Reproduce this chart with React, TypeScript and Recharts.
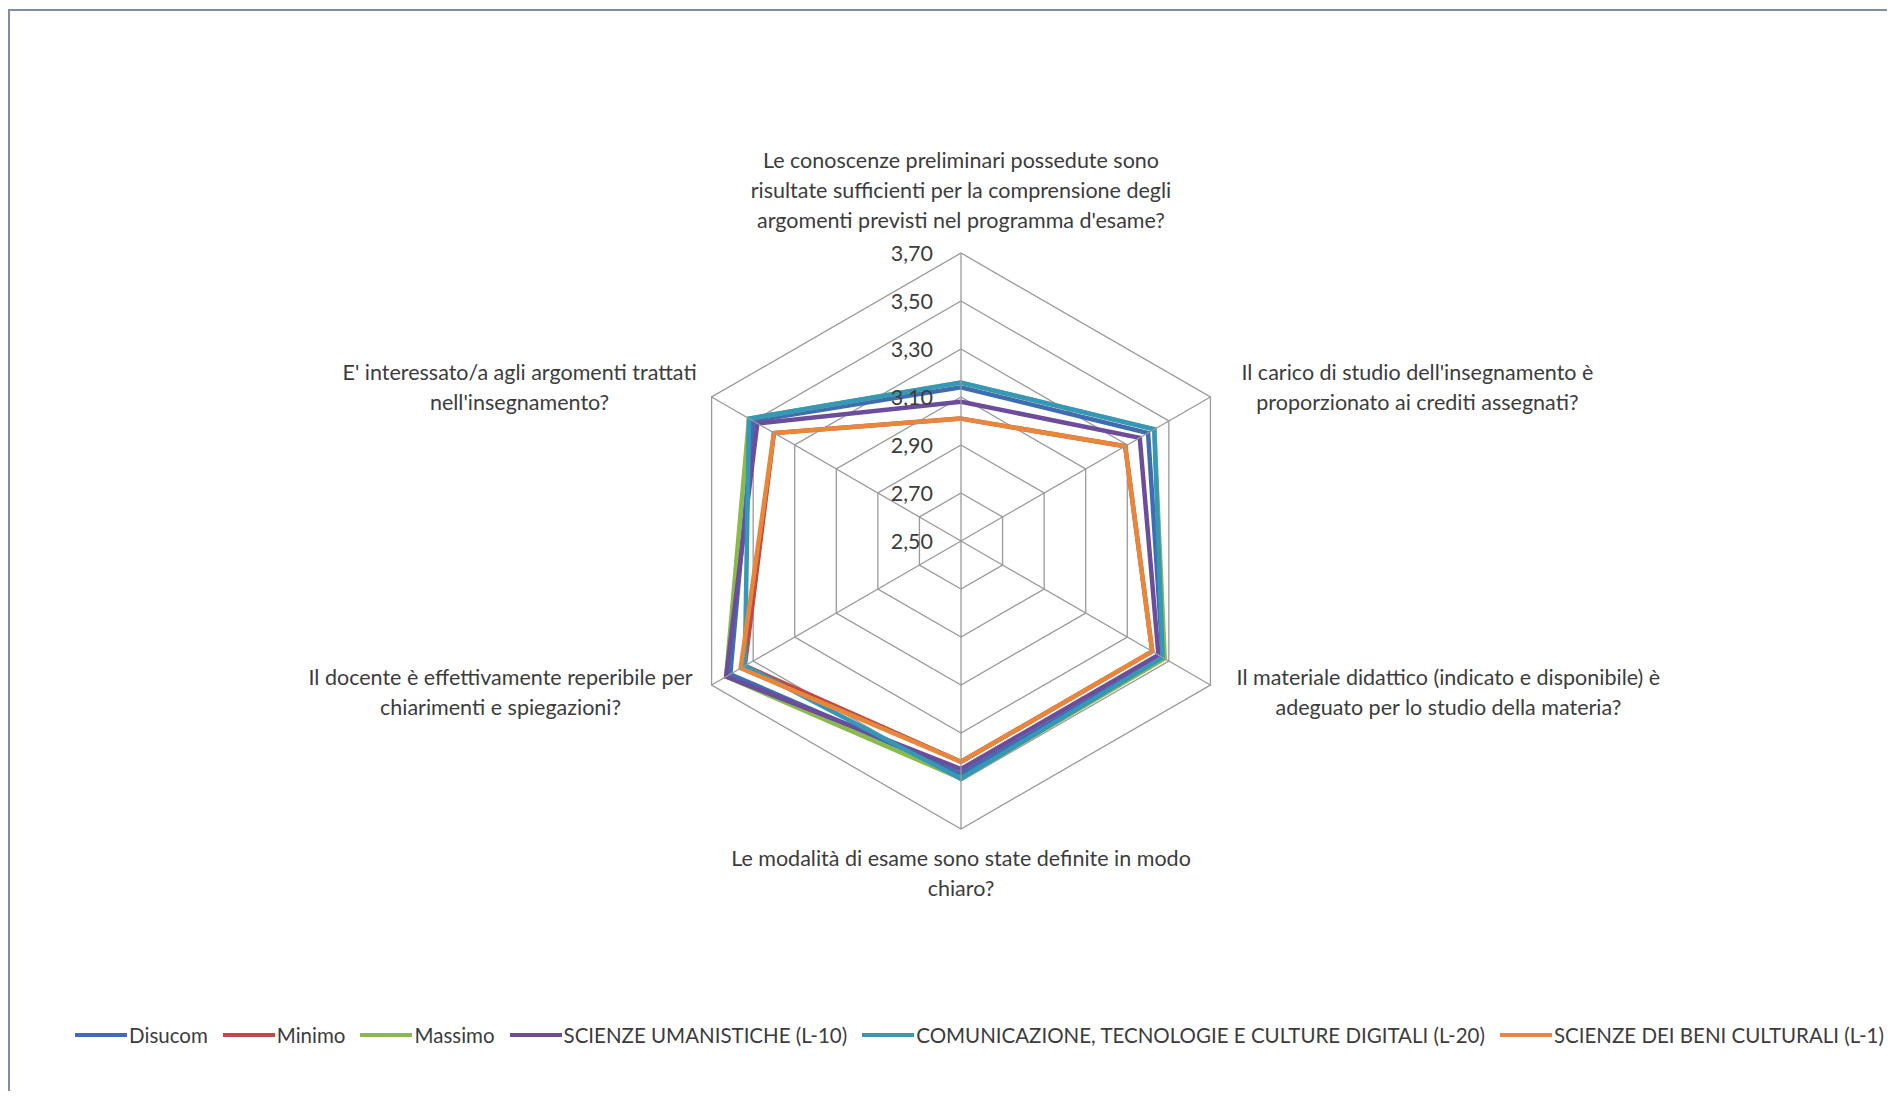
import { RadarChart, Radar, PolarGrid, PolarAngleAxis, PolarRadiusAxis } from "recharts";

// domande del questionario, già spezzate come nel grafico originale
const CATEGORY_LINES = [
  [
    "Le conoscenze preliminari possedute sono",
    "risultate sufficienti per la comprensione degli",
    "argomenti previsti nel programma d'esame?",
  ],
  ["Il carico di studio dell'insegnamento è", "proporzionato ai crediti assegnati?"],
  ["Il materiale didattico (indicato e disponibile) è", "adeguato per lo studio della materia?"],
  ["Le modalità di esame sono state definite in modo", "chiaro?"],
  ["Il docente è effettivamente reperibile per", "chiarimenti e spiegazioni?"],
  ["E' interessato/a agli argomenti trattati", "nell'insegnamento?"],
];
const CATEGORIES = CATEGORY_LINES.map((l) => l.join(" "));

const RADIUS_TICKS = [2.5, 2.7, 2.9, 3.1, 3.3, 3.5, 3.7];

const DISUCOM = [3.14, 3.4, 3.47, 3.47, 3.61, 3.5];
const MINIMO = [3.01, 3.29, 3.42, 3.42, 3.54, 3.4];
const MASSIMO = [3.16, 3.43, 3.48, 3.49, 3.63, 3.52];
const L10 = [3.08, 3.36, 3.45, 3.45, 3.63, 3.48];
const L20 = [3.16, 3.43, 3.47, 3.49, 3.54, 3.52];
const L1 = [3.01, 3.29, 3.42, 3.42, 3.56, 3.4];

const SERIES = [
  { key: "disucom", name: "Disucom", values: DISUCOM, color: "#3f6db2" },
  { key: "minimo", name: "Minimo", values: MINIMO, color: "#bf4a46" },
  { key: "massimo", name: "Massimo", values: MASSIMO, color: "#8cb94c" },
  { key: "l10", name: "SCIENZE UMANISTICHE (L-10)", values: L10, color: "#6c4d9c" },
  { key: "l20", name: "COMUNICAZIONE, TECNOLOGIE E CULTURE DIGITALI (L-20)", values: L20, color: "#3498b6" },
  { key: "l1", name: "SCIENZE DEI BENI CULTURALI (L-1)", values: L1, color: "#e8873a" },
];

const data = CATEGORIES.map((axis, i) => {
  const row: Record<string, string | number> = { axis };
  SERIES.forEach((s) => (row[s.key] = s.values[i]));
  return row;
});

const FONT = "Lato, 'Open Sans', sans-serif";
const TEXT = "#3c3c3c";
const GRID = "#9a9a9a";

// la scala radiale finisce all'80% di OUTER, l'esagono esterno sta lì
const OUTER = 360;
const HEX_R = OUTER * 0.8;

// spostamento del blocco di testo rispetto al vertice dell'esagono
const LABEL_SHIFT = [
  [0, -63],
  [207, -10],
  [238, 7],
  [0, 44],
  [-211, 7],
  [-192, -10],
];

function AngleTick(props: any) {
  const { x, y, payload, index } = props;
  const a = (payload.coordinate * Math.PI) / 180;
  const back = OUTER + 8 - HEX_R;
  const vx = x - back * Math.cos(a);
  const vy = y + back * Math.sin(a);
  // raggio dal centro al vertice esterno
  const ox = x - (OUTER + 8) * Math.cos(a);
  const oy = y + (OUTER + 8) * Math.sin(a);
  const lines = CATEGORY_LINES[index] ?? [String(payload.value)];
  const [dx, dy] = LABEL_SHIFT[index] ?? [0, 0];
  const cx = vx + dx;
  const cy = vy + dy;
  const lh = 30;
  return (
    <g>
      <line x1={ox} y1={oy} x2={vx} y2={vy} stroke={GRID} strokeWidth={1.3} />
      {lines.map((line, i) => (
        <text
          key={i}
          x={cx}
          y={cy + (i - (lines.length - 1) / 2) * lh}
          textAnchor="middle"
          dominantBaseline="central"
          fontSize={21.5}
          fontFamily={FONT}
          fill={TEXT}
        >
          {line}
        </text>
      ))}
    </g>
  );
}

function RadiusTick(props: any) {
  const { x, y, payload } = props;
  return (
    <text
      x={x - 28}
      y={y}
      textAnchor="end"
      dominantBaseline="central"
      fontSize={21.5}
      fontFamily={FONT}
      fill={TEXT}
    >
      {Number(payload.value).toFixed(2).replace(".", ",")}
    </text>
  );
}

function ChartLegend() {
  return (
    <div
      style={{
        position: "absolute",
        top: 1012,
        left: 0,
        width: 1877,
        boxSizing: "border-box",
        display: "flex",
        justifyContent: "center",
        alignItems: "center",
        gap: 15,
        fontFamily: FONT,
        fontSize: 20.5,
        color: TEXT,
        paddingLeft: 62,
      }}
    >
      {SERIES.map((s) => (
        <div key={s.key} style={{ display: "flex", alignItems: "center" }}>
          <span style={{ display: "inline-block", width: 52, height: 4, background: s.color, marginRight: 2 }} />
          <span>{s.name}</span>
        </div>
      ))}
    </div>
  );
}

export default function App() {
  return (
    <div
      style={{
        width: 1900,
        height: 1080,
        marginTop: 1,
        borderTop: "2px solid #7d8ea8",
        borderLeft: "2px solid #7d8ea8",
        background: "#fff",
        position: "relative",
      }}
    >
      <style>{"html,body{overflow:hidden}"}</style>
      <RadarChart
        width={1877}
        height={1078}
        data={data}
        cx={951}
        cy={530}
        outerRadius={OUTER}
        margin={{ top: 0, right: 0, bottom: 0, left: 0 }}
      >
        <PolarGrid gridType="polygon" radialLines={false} stroke={GRID} strokeWidth={1.3} />
        <PolarAngleAxis dataKey="axis" tick={<AngleTick />} tickLine={false} axisLine={false} />
        <PolarRadiusAxis
          angle={90}
          type="number"
          domain={[2.5, 3.7]}
          allowDataOverflow
          ticks={RADIUS_TICKS as any}
          tickCount={13}
          tick={<RadiusTick />}
          axisLine={false}
          tickLine={false}
        />
        {SERIES.map((s) => (
          <Radar
            key={s.key}
            name={s.name}
            dataKey={s.key}
            stroke={s.color}
            strokeWidth={4.5}
            fill="none"
            fillOpacity={0}
            dot={false}
            isAnimationActive={false}
          />
        ))}
      </RadarChart>
      <ChartLegend />
    </div>
  );
}
